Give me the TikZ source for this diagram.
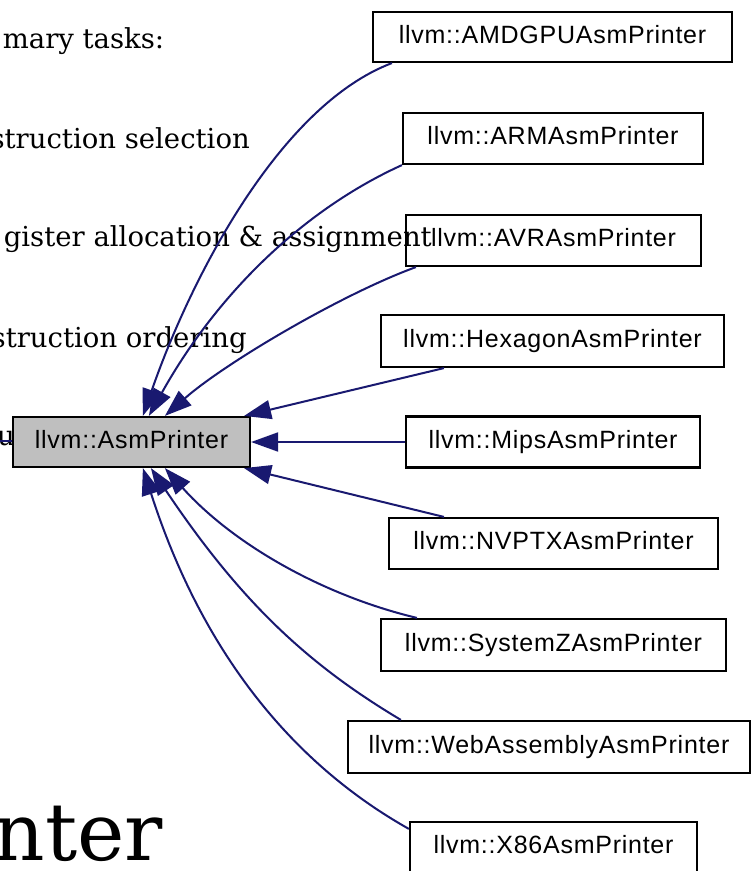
\documentclass[tikz,border=0pt]{standalone}
\usepackage{fontspec}
\setmainfont{DejaVu Serif}
\newfontfamily\labelfont[LetterSpace=3]{Liberation Sans}
\usetikzlibrary{arrows.meta}
\definecolor{edgeblue}{RGB}{25,25,112}
\definecolor{basegray}{RGB}{191,191,191}
\begin{document}
\begin{tikzpicture}[x=1pt,y=-1pt,
  cls/.style={draw=black, line width=2.2pt, minimum height=51pt, inner sep=0pt,
    font=\labelfont\fontsize{25}{25}\selectfont, text height=18.3pt, text depth=5.7pt},
  basecls/.style={cls, fill=basegray},
  inherit/.style={draw=edgeblue, line width=2pt, -{Triangle[length=27pt,width=19pt]}},
  frag/.style={font=\fontsize{27.5}{27.5}\selectfont, anchor=base east, inner sep=0pt},
  bigfrag/.style={font=\fontsize{80}{80}\selectfont, anchor=base east, inner sep=0pt}]

% page
\fill[white] (0,0) rectangle (751,871);
\useasboundingbox (0,0) rectangle (751,871);

% page text running behind the graph
\node[frag] (t1) at (164.5,48) {mary tasks:};
\node[frag] (t2) at (250,148) {struction selection};
\node[frag] (t3) at (432,246) {gister allocation \& assignment};
\node[frag] (t4) at (247,347) {struction ordering};
\node[frag] (t5) at (15,445) {u};
\coordinate (u0) at (0,441);
\coordinate (u1) at (12,441);
\draw[edgeblue, line width=1.6pt] (u0) -- (u1);
\node[bigfrag] (t6) at (163,860) {nter};

% class nodes
\node[basecls, minimum width=237pt, minimum height=50pt] (asm) at (131.5,442) {llvm::AsmPrinter};
\node[cls, minimum width=359pt, minimum height=50pt] (amd) at (552.5,37) {llvm::AMDGPUAsmPrinter};
\node[cls, minimum width=300pt] (arm) at (553,138.5) {llvm::ARMAsmPrinter};
\node[cls, minimum width=295pt] (avr) at (553.5,240.5) {llvm::AVRAsmPrinter};
\node[cls, minimum width=343pt, minimum height=52pt] (hex) at (552.5,341) {llvm::HexagonAsmPrinter};
\node[cls, minimum width=294pt] (mips) at (553,442) {llvm::MipsAsmPrinter};
\node[cls, minimum width=329pt] (nvptx) at (553.5,543.5) {llvm::NVPTXAsmPrinter};
\node[cls, minimum width=345pt, minimum height=52pt] (sysz) at (553.5,645) {llvm::SystemZAsmPrinter};
\node[cls, minimum width=402pt, minimum height=52pt] (wasm) at (549,747) {llvm::WebAssemblyAsmPrinter};
\node[cls, minimum width=287pt] (x86) at (553.5,847.5) {llvm::X86AsmPrinter};

% inheritance edges
\draw[inherit] ([xshift=20pt]amd.south west) .. controls (281,105) and (192,274.5) .. ([xshift=131pt]asm.north west);
\draw[inherit] (arm.south west) .. controls (303,210) and (217,294) .. ([xshift=137pt]asm.north west);
\draw[inherit] ([xshift=11pt]avr.south west) .. controls (342,294) and (225,363) .. ([xshift=153pt]asm.north west);
\draw[inherit] ([xshift=64pt]hex.south west) -- ([xshift=-7pt]asm.north east);
\draw[inherit] (mips.west) -- (asm.east);
\draw[inherit] ([xshift=56pt]nvptx.north west) -- ([xshift=-7pt]asm.south east);
\draw[inherit] ([xshift=37pt]sysz.north west) .. controls (321,595) and (232,543) .. ([xshift=153pt]asm.south west);
\draw[inherit] ([xshift=54pt]wasm.north west) .. controls (307,664) and (240,601) .. ([xshift=139pt]asm.south west);
\draw[inherit] ([yshift=-8pt]x86.north west) .. controls (297,766) and (204,658) .. ([xshift=131pt]asm.south west);
\end{tikzpicture}
\end{document}
